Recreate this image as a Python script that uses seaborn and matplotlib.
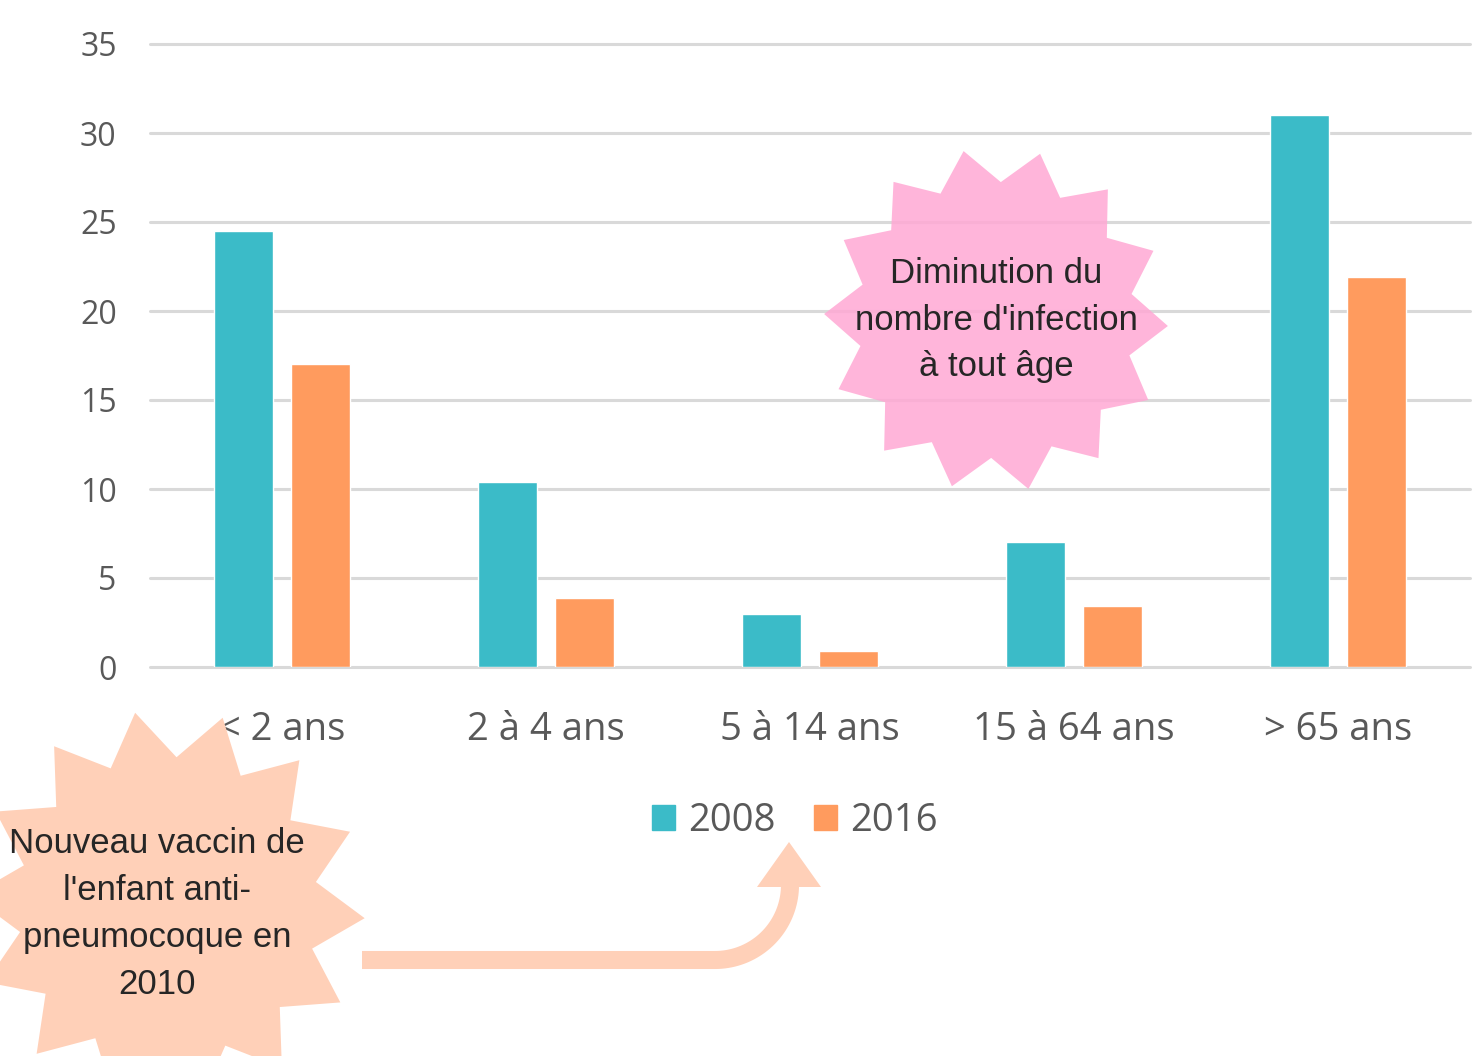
import matplotlib
matplotlib.use("Agg")
import matplotlib.pyplot as plt
import matplotlib.patches as mpatches
import seaborn as sns
import pandas as pd
import numpy as np

# ---- data ----
categories = ["< 2 ans", "2 à 4 ans", "5 à 14 ans", "15 à 64 ans", "> 65 ans"]
years = ["2008", "2016"]
values_2008 = [24.5, 10.4, 3.0, 7.0, 31.0]
values_2016 = [17.0, 3.9, 0.9, 3.4, 21.9]
yticks = [0, 5, 10, 15, 20, 25, 30, 35]

note_pink = "Diminution du\nnombre d'infection\nà tout âge"
note_peach = "Nouveau vaccin de\nl'enfant anti-\npneumocoque en\n2010"

TEAL = "#3bbbc8"
ORANGE = "#ff9b5e"
PINK = "#ffa8d4"
PEACH = "#ffd0b8"
GRID = "#d9d9d9"
TXT = "#595959"

df = pd.DataFrame({
    "cat": categories * 2,
    "year": [years[0]] * len(categories) + [years[1]] * len(categories),
    "val": values_2008 + values_2016,
})

sns.set_theme(style="white")
plt.rcParams["font.family"] = ["Open Sans", "DejaVu Sans"]

W, H = 1477, 1056
fig = plt.figure(figsize=(W / 100, H / 100), dpi=100)
fig.patch.set_facecolor("white")

ax = fig.add_axes([150 / W, 1 - 667 / H, 1320 / W, 623 / H])
sns.barplot(data=df, x="cat", y="val", hue="year", order=categories,
            hue_order=years, palette=[TEAL, ORANGE], saturation=1,
            width=0.585, gap=0.23, errorbar=None, legend=False, ax=ax)
ax.set_ylim(0, 35)
ax.set_xlim(-0.5, len(categories) - 0.5)
ax.set_yticks(yticks)
ax.set_xlabel("")
ax.set_ylabel("")
for s in ax.spines.values():
    s.set_visible(False)
ax.yaxis.grid(True, color=GRID, lw=2.2)
ax.set_axisbelow(True)
for gl in ax.get_ygridlines():
    gl.set_clip_on(False)
ax.tick_params(axis="y", length=0, pad=24, labelsize=23, labelcolor=TXT)
ax.tick_params(axis="x", length=0, pad=32, labelsize=27.5, labelcolor=TXT)

handles = [mpatches.Patch(color=TEAL, label=years[0]),
           mpatches.Patch(color=ORANGE, label=years[1])]
fig.legend(handles=handles, loc="center", bbox_to_anchor=(795 / W, 1 - 821 / H),
           ncol=2, frameon=False, fontsize=27.5, handlelength=0.6,
           handleheight=0.6, handletextpad=0.35, columnspacing=1.0,
           labelcolor=TXT)

# ---- overlay for decorations ----
ov = fig.add_axes([0, 0, 1, 1], zorder=5)
ov.set_xlim(0, W)
ov.set_ylim(H, 0)
ov.axis("off")


def star(cx, cy, R, r, n, start_deg):
    pts = []
    for i in range(2 * n):
        a = np.deg2rad(start_deg + i * 180.0 / n)
        rad = R if i % 2 == 0 else r
        pts.append((cx + rad * np.cos(a), cy - rad * np.sin(a)))
    return pts


ov.add_patch(mpatches.Polygon(star(996, 320, 172, 138, 14, -2), closed=True,
                              facecolor=PINK, edgecolor="none", alpha=0.85))
ov.add_patch(mpatches.Polygon(star(168, 907, 197, 150, 14, 99.6), closed=True,
                              facecolor=PEACH, edgecolor="none"))

# arrow
t = np.linspace(0, np.pi / 2, 40)
xs = np.concatenate([[362], 715 + 75 * np.sin(t), [790]])
ys = np.concatenate([[960], 885 + 75 * np.cos(t), [880]])
ov.plot(xs, ys, color=PEACH, lw=13, solid_capstyle="butt", solid_joinstyle="round")
ov.add_patch(mpatches.Polygon([(757, 887), (821, 887), (789, 842)], closed=True,
                              facecolor=PEACH, edgecolor="none"))

ov.text(996, 320, note_pink, ha="center", va="center", fontsize=25,
        family=["Liberation Sans", "DejaVu Sans"], color="#262626", linespacing=1.53)
ov.text(157, 914, note_peach, ha="center", va="center", fontsize=25,
        family=["Liberation Sans", "DejaVu Sans"], color="#262626", linespacing=1.53)

fig.savefig("out.png", dpi=100, facecolor="white")
